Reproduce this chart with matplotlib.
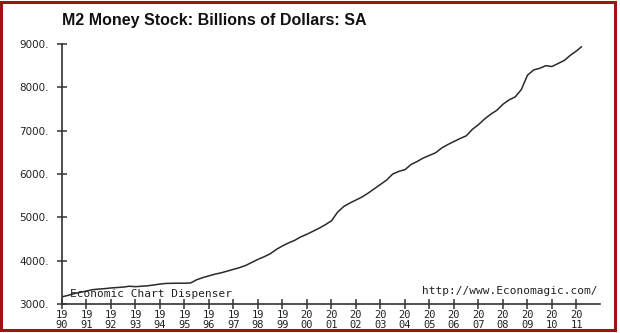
"""M2 money stock line chart in the style of the Economagic chart dispenser."""

import matplotlib

matplotlib.use("Agg")
import matplotlib.pyplot as plt
from matplotlib.patches import Rectangle

# quarterly readings (decimal year, billions of dollars)
years = [
    1990.0, 1990.25, 1990.5, 1990.75,
    1991.0, 1991.25, 1991.5, 1991.75,
    1992.0, 1992.25, 1992.5, 1992.75,
    1993.0, 1993.25, 1993.5, 1993.75,
    1994.0, 1994.25, 1994.5, 1994.75,
    1995.0, 1995.25, 1995.5, 1995.75,
    1996.0, 1996.25, 1996.5, 1996.75,
    1997.0, 1997.25, 1997.5, 1997.75,
    1998.0, 1998.25, 1998.5, 1998.75,
    1999.0, 1999.25, 1999.5, 1999.75,
    2000.0, 2000.25, 2000.5, 2000.75,
    2001.0, 2001.25, 2001.5, 2001.75,
    2002.0, 2002.25, 2002.5, 2002.75,
    2003.0, 2003.25, 2003.5, 2003.75,
    2004.0, 2004.25, 2004.5, 2004.75,
    2005.0, 2005.25, 2005.5, 2005.75,
    2006.0, 2006.25, 2006.5, 2006.75,
    2007.0, 2007.25, 2007.5, 2007.75,
    2008.0, 2008.25, 2008.5, 2008.75,
    2009.0, 2009.25, 2009.5, 2009.75,
    2010.0, 2010.25, 2010.5, 2010.75,
    2011.0, 2011.2,
]
m2 = [
    3165, 3200, 3240, 3270,
    3300, 3330, 3345, 3355,
    3370, 3380, 3390, 3410,
    3400, 3410, 3420, 3440,
    3460, 3475, 3478, 3480,
    3480, 3485, 3560, 3610,
    3650, 3690, 3720, 3760,
    3800, 3840, 3890, 3960,
    4030, 4090, 4160, 4260,
    4340, 4410, 4470, 4550,
    4610, 4680, 4750, 4830,
    4920, 5120, 5250, 5330,
    5400, 5470, 5560, 5660,
    5760, 5860, 6000, 6060,
    6100, 6220, 6290, 6370,
    6430, 6490, 6600, 6680,
    6750, 6820, 6880, 7030,
    7140, 7270, 7380, 7470,
    7610, 7710, 7780, 7950,
    8280, 8400, 8440, 8500,
    8480, 8550, 8620, 8740,
    8840, 8935,
]

ytick_vals = [3000, 4000, 5000, 6000, 7000, 8000, 9000]
xtick_years = list(range(1990, 2012))

title = "M2 Money Stock: Billions of Dollars: SA"
left_note = "Economic Chart Dispenser"
right_note = "http://www.Economagic.com/"

W, H = 620, 333
fig = plt.figure(figsize=(W / 100, H / 100), dpi=100)
fig.patch.set_facecolor("white")

# dark red frame
fig.patches.append(
    Rectangle((1 / W, 3 / H), 614 / W, 328 / H, transform=fig.transFigure,
              fill=False, edgecolor="#9e1414", linewidth=2.2)
)

ax = fig.add_axes([62 / W, (H - 304) / H, (600 - 62) / W, (304 - 44) / H])
ax.plot(years, m2, color="#2a2a2a", linewidth=1.1)

ax.set_xlim(1990, 2011.96)
ax.set_ylim(3000, 9000)

for side in ("top", "right"):
    ax.spines[side].set_visible(False)
for side in ("left", "bottom"):
    ax.spines[side].set_color("#333333")
    ax.spines[side].set_linewidth(1.2)

ax.set_yticks(ytick_vals)
ax.set_yticklabels([f"{v}." for v in ytick_vals], fontsize=7.5,
                   family="DejaVu Sans", color="#222222")
ax.set_xticks(xtick_years)
ax.set_xticklabels([f"{str(y)[:2]}\n{str(y)[2:]}" for y in xtick_years],
                   fontsize=7.5, family="DejaVu Sans Mono", color="#222222",
                   linespacing=0.95)
ax.tick_params(axis="both", direction="inout", length=7, width=1.1,
               color="#333333")
ax.tick_params(axis="y", pad=6)
ax.tick_params(axis="x", pad=1)

ax.text(0.014, 0.018, left_note, transform=ax.transAxes, fontsize=8,
        family="DejaVu Sans Mono", color="#222222", ha="left", va="bottom")
ax.text(0.995, 0.03, right_note, transform=ax.transAxes, fontsize=8,
        family="DejaVu Sans Mono", color="#222222", ha="right", va="bottom")

fig.text(62 / W, 1 - 20 / H, title, fontsize=11.5, fontweight="bold",
         family="Liberation Sans", color="#111111", ha="left", va="center")

fig.savefig("out.png", dpi=100, facecolor=fig.get_facecolor())
